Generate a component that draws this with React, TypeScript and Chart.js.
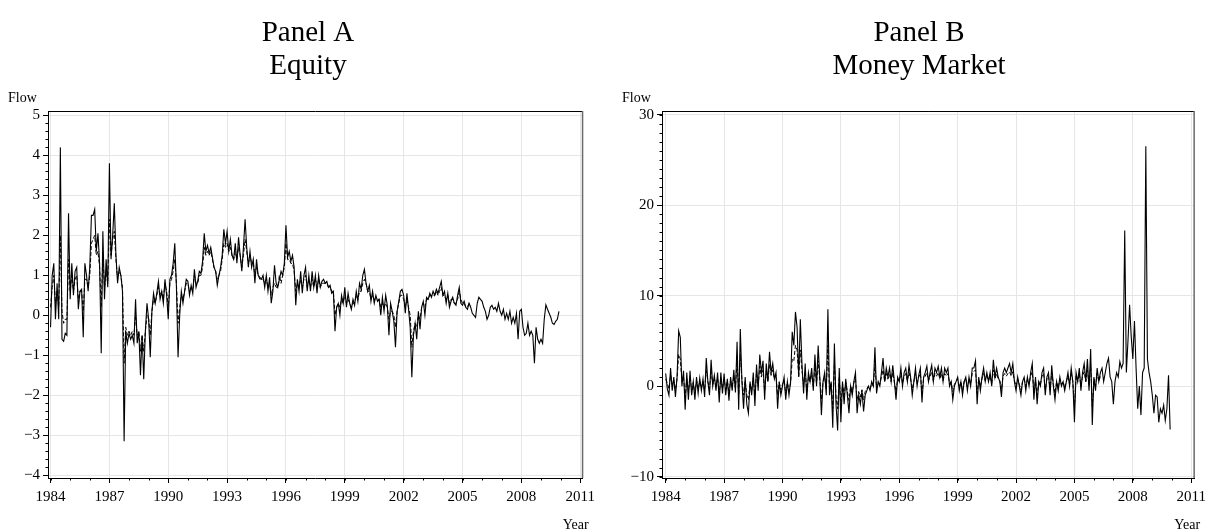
import React, { useEffect, useRef } from 'react';
import { Chart, registerables } from 'chart.js';

Chart.register(...registerables);

const START_YEAR = 1984;
const X_TICKS = [1984, 1987, 1990, 1993, 1996, 1999, 2002, 2005, 2008, 2011];
const EQUITY_Y_TICKS = [-4, -3, -2, -1, 0, 1, 2, 3, 4, 5];
const MM_Y_TICKS = [-10, 0, 10, 20, 30];
const EQUITY_TITLE = ['Panel A', 'Equity'];
const MM_TITLE = ['Panel B', 'Money Market'];
const Y_LABEL = 'Flow';
const X_LABEL = 'Year';

// Panel A, solid line (monthly, Jan 1984 - Dec 2009)
const EQUITY_FLOW = [
  -0.3, 1.0, 1.3, -0.1, 0.8, -0.1, 4.2, -0.6, -0.65, -0.45, -0.5, 2.55,
  0.4, 1.3, 0.5, 1.1, 1.2, 0.15, 0.6, 0.65, -0.55, 1.3, 1.0, 0.6,
  1.2, 2.5, 2.5, 2.65, 1.6, 2.05, 1.3, -0.95, 2.1, 0.4, 1.4, 0.7,
  3.8, 1.4, 2.0, 2.8, 1.5, 0.8, 1.2, 1.0, 0.6, -3.15, -0.4, -0.7,
  -0.45, -0.6, -0.5, -0.7, 0.4, -0.7, -0.4, -1.5, -0.5, -1.6, -0.4, 0.3,
  -0.1, -1.05, 0.1, 0.55, 0.3, 0.55, 0.85, 0.4, 0.6, 0.3, 0.9, 0.5,
  -0.1, 0.9, 1.0, 1.3, 1.8, 0.7, -1.05, 0.0, 0.6, 0.3, 0.6, 0.9,
  0.85, 0.5, 0.75, 0.55, 1.15, 0.7, 0.85, 1.1, 1.05, 1.35, 2.05, 1.6,
  1.75, 1.55, 1.7, 1.45, 1.2, 1.1, 0.75, 1.0, 1.2, 1.5, 2.15, 1.8,
  2.1, 1.6, 1.9, 1.5, 1.4, 1.8, 1.3, 1.95, 1.5, 1.1, 1.7, 2.4,
  1.7, 1.2, 1.6, 1.2, 1.4, 0.8, 1.4, 1.0, 0.95, 0.9, 1.0, 0.7,
  1.0, 0.6, 0.95, 0.3, 0.6, 1.25, 0.8, 0.7, 0.9, 1.1, 1.0, 1.3,
  2.25, 1.45, 1.6, 1.35, 1.5, 1.2, 0.25, 0.9, 0.6, 1.1, 0.55, 1.0,
  1.2, 0.6, 1.0, 0.6, 1.1, 0.7, 1.0, 0.55, 1.0, 0.7, 0.85, 0.9,
  0.8, 0.85, 0.7, 0.75, 0.55, 0.6, -0.4, 0.2, 0.3, 0.0, 0.5, 0.3,
  0.7, 0.2, 0.55, 0.3, 0.15, 0.4, 0.25, 0.6, 0.35, 0.8, 0.65, 1.0,
  1.15, 0.8, 0.6, 0.75, 0.35, 0.6, 0.3, 0.5, 0.35, 0.4, 0.0, 0.45,
  0.1, 0.5, 0.25, -0.5, 0.3, 0.1, -0.15, -0.8, 0.1, 0.35, 0.6, 0.65,
  0.5, 0.05, 0.55, 0.15, -0.3, -1.55, -0.5, -0.2, -0.6, 0.1, -0.35, 0.2,
  0.35, 0.0, 0.45, 0.4, 0.55, 0.45, 0.6, 0.5, 0.65, 0.55, 0.7, 0.85,
  0.5, 0.6, 0.3, 0.55, 0.2, 0.35, 0.45, 0.3, 0.25, 0.5, 0.7, 0.3,
  0.25, 0.35, 0.2, 0.15, 0.3, 0.2, 0.05, 0.0, -0.05, 0.3, 0.45, 0.4,
  0.35, 0.2, 0.1, -0.1, 0.0, 0.2, 0.25, 0.15, 0.2, 0.1, 0.3, 0.1,
  0.0, 0.15, -0.1, 0.05, -0.1, 0.1, -0.2, -0.05, -0.2, 0.05, -0.6, 0.1,
  0.15, -0.3, -0.5, -0.45, -0.2, -0.5, -0.4, -0.5, -1.2, -0.3, -0.6, -0.7,
  -0.6, -0.7, -0.1, 0.26, 0.15, 0.05, -0.05, -0.2, -0.23, -0.15, -0.1, 0.1,
];

// Panel A, dashed line (monthly, Jan 1984 - Jun 2005)
const EQUITY_FLOW_ALT = [
  0.2, 0.7, 1.0, 0.3, 0.6, 0.2, 2.0, 0.1, -0.2, -0.1, -0.1, 1.4,
  0.6, 1.0, 0.6, 0.9, 1.0, 0.4, 0.6, 0.6, 0.1, 0.9, 0.9, 0.7,
  1.0, 1.8, 1.9, 2.0, 1.5, 1.6, 1.2, 0.2, 1.5, 0.7, 1.1, 0.8,
  2.4, 1.5, 1.9, 2.1, 1.4, 0.9, 1.1, 1.0, 0.7, -1.2, -0.3, -0.5,
  -0.4, -0.5, -0.4, -0.5, 0.0, -0.5, -0.4, -0.9, -0.5, -0.9, -0.4, 0.0,
  -0.1, -0.5, 0.1, 0.4, 0.3, 0.5, 0.7, 0.5, 0.6, 0.4, 0.8, 0.6,
  0.2, 0.8, 0.9, 1.1, 1.4, 0.8, -0.2, 0.2, 0.5, 0.4, 0.6, 0.8,
  0.8, 0.6, 0.7, 0.6, 1.0, 0.8, 0.8, 1.0, 1.0, 1.2, 1.7, 1.5,
  1.6, 1.5, 1.6, 1.4, 1.2, 1.1, 0.9, 1.0, 1.1, 1.4, 1.8, 1.7,
  1.8, 1.6, 1.7, 1.5, 1.4, 1.6, 1.4, 1.7, 1.5, 1.2, 1.5, 1.9,
  1.6, 1.3, 1.5, 1.3, 1.3, 1.0, 1.2, 1.0, 0.9, 0.9, 0.9, 0.8,
  0.9, 0.7, 0.8, 0.5, 0.7, 0.8, 0.7, 0.7, 1.0, 0.8, 1.0, 1.2,
  1.8, 1.4, 1.4, 1.3, 1.3, 1.1, 0.6, 0.8, 0.7, 0.9, 0.7, 0.9,
  1.0, 0.7, 0.9, 0.7, 0.9, 0.7, 0.9, 0.7, 0.9, 0.7, 0.8, 0.8,
  0.8, 0.8, 0.7, 0.7, 0.6, 0.6, 0.0, 0.2, 0.3, 0.2, 0.4, 0.3,
  0.5, 0.3, 0.4, 0.3, 0.2, 0.3, 0.3, 0.5, 0.4, 0.6, 0.6, 0.8,
  0.9, 0.8, 0.6, 0.6, 0.4, 0.5, 0.4, 0.4, 0.4, 0.4, 0.2, 0.3,
  0.2, 0.3, 0.2, -0.1, 0.1, 0.1, 0.0, -0.3, 0.1, 0.3, 0.5, 0.5,
  0.4, 0.2, 0.4, 0.2, 0.0, -0.8, -0.4, -0.2, -0.3, 0.0, -0.1, 0.2,
  0.3, 0.2, 0.4, 0.4, 0.5, 0.5, 0.5, 0.5, 0.6, 0.5, 0.6, 0.7,
  0.5, 0.5, 0.4, 0.5, 0.3, 0.4, 0.4, 0.3, 0.3, 0.4, 0.6, 0.4,
  0.3, 0.3, 0.2, 0.2, 0.3, 0.25,
];

// Panel B, solid line (monthly, Jan 1984 - Dec 2009)
const MM_FLOW = [
  1.4, -0.3, -1.0, 2.0, -0.5, 1.0, -1.2, 1.0, 6.1, 5.4, 0.0, 1.7,
  -2.6, 1.5, -1.5, 1.7, -1.0, 0.5, -1.5, 1.0, -0.8, 0.9, -0.5, 0.8,
  -1.2, 3.1, 0.5, -1.0, 2.9, 0.0, 1.2, -0.5, 1.5, -1.8, 1.5, -0.8,
  1.4, -1.0, 0.8, -1.6, 1.0, -0.5, 1.8, -0.7, 4.9, -2.6, 6.3, 0.5,
  -2.5, 1.0, -2.0, -3.0, 0.5, -1.0, 1.5, -2.2, 2.4, -0.5, 3.5, 1.5,
  2.8, -1.5, 2.5, 0.5, 3.8, 1.5, 2.5, 0.8, 1.5, -2.5, 0.5, -1.0,
  0.0, 1.0, -1.5, 0.5, -1.0, 0.5, 6.0, 4.5, 8.2, 6.5, 1.0, 7.4,
  2.5, -0.8, 2.5, -1.5, 1.5, 0.5, 2.0, -0.5, 3.5, 0.0, 4.5, 1.0,
  -3.2, 0.5, 1.5, -1.0, 8.5, -1.0, 0.5, -4.6, 4.7, -2.0, -4.9, 2.0,
  -4.0, 0.5, -2.0, 0.8, -1.0, -3.0, 0.0, -1.0, 0.5, 1.5, -3.0, -1.0,
  -2.0, -0.5, -2.8, -1.0, -0.5, 0.0, -0.5, 0.5, 0.0, 4.3, -0.8, 0.5,
  0.0, 1.5, 3.1, 0.5, 2.0, 1.0, 2.0, 0.5, 2.3, 0.5, -1.5, 1.0,
  0.5, 2.0, 0.0, 1.5, 2.0, 0.5, 2.3, 1.0, -1.0, 0.5, 2.0, 0.0,
  1.2, 2.0, -1.8, 1.0, 1.5, 2.2, 0.5, 1.5, 2.3, 0.5, 2.0, 1.5,
  2.2, 1.0, 2.0, 0.5, 2.0, 1.5, 2.0, 0.0, 0.5, -1.5, 0.0, 0.5,
  1.0, -0.5, 0.5, -1.0, 0.5, 1.0, -0.5, 1.0, 0.0, 2.0, 2.0, 2.8,
  -2.0, 1.0, -0.5, 1.0, 2.0, 0.5, 1.5, 0.5, 1.5, 0.0, 2.9, 1.0,
  2.0, 1.0, 0.5, -1.2, 1.5, 2.0, 1.5, 2.0, 2.5, 1.5, 2.5, 0.5,
  -0.5, 1.0, 0.0, -1.0, 0.5, 1.0, -0.5, 1.0, 0.0, 1.5, 2.5, -1.5,
  1.0, -2.0, 0.5, 0.0, 1.5, 2.0, -1.0, 1.0, 1.5, -1.0, 2.3, 0.0,
  -1.5, 0.5, -0.5, 1.0, 0.0, 0.5, -0.5, 0.5, 1.5, 0.0, 2.0, 0.5,
  -4.0, 1.5, 0.5, 2.0, -0.5, 1.5, 2.5, 0.5, 3.0, -0.5, 4.1, -4.3,
  1.0, -0.5, 2.0, 0.5, 1.5, 2.0, 0.5, 1.5, 2.5, 3.1, 1.0, 0.5,
  -2.0, 0.5, 1.5, 1.0, 2.7, 2.0, 2.5, 17.2, 1.5, 5.0, 9.0, 5.5,
  3.0, 7.2, 2.0, -2.5, 0.0, -3.2, 1.5, 2.0, 26.5, 3.0, 1.5, 0.5,
  -1.0, -3.0, -1.0, -1.2, -4.0, -2.5, -3.0, -2.1, -3.8, -2.5, 1.2, -4.8,
];

// Panel B, dashed line (monthly, Jan 1984 - May 2006)
const MM_FLOW_ALT = [
  0.8, 0.3, -0.3, 1.2, 0.2, 0.6, -0.4, 0.8, 3.5, 3.0, 0.5, 1.0,
  -1.2, 0.8, -0.6, 1.0, -0.4, 0.4, -0.8, 0.6, -0.3, 0.5, -0.2, 0.5,
  -0.5, 1.8, 0.5, -0.3, 1.6, 0.2, 0.8, 0.0, 0.9, -0.8, 0.9, -0.3,
  0.8, -0.4, 0.6, -0.8, 0.6, 0.0, 1.0, -0.2, 2.8, -1.0, 3.5, 0.6,
  -1.0, 0.6, -1.0, -1.5, 0.3, -0.5, 0.9, -1.0, 1.5, 0.0, 2.2, 1.0,
  1.8, -0.5, 1.6, 0.5, 2.4, 1.2, 1.8, 0.8, 1.2, -1.0, 0.4, -0.4,
  0.2, 0.6, -0.8, 0.4, -0.5, 0.3, 3.0, 2.8, 4.5, 4.0, 1.0, 4.0,
  1.8, 0.0, 1.6, -0.6, 1.0, 0.5, 1.2, 0.0, 2.2, 0.3, 2.8, 0.8,
  -1.5, 0.5, 1.0, -0.4, 4.5, -0.4, 0.4, -2.5, 2.5, -1.2, -2.5, 1.0,
  -2.2, 0.3, -1.0, 0.4, -0.6, -1.6, 0.0, -0.6, 0.4, 0.8, -1.6, -0.6,
  -1.2, -0.4, -1.5, -0.6, -0.3, 0.0, -0.3, 0.3, 0.0, 2.4, -0.2, 0.4,
  0.2, 1.0, 1.8, 0.5, 1.4, 0.8, 1.3, 0.5, 1.5, 0.4, -0.6, 0.8,
  0.5, 1.4, 0.3, 1.0, 1.4, 0.6, 1.5, 0.8, -0.3, 0.5, 1.4, 0.3,
  1.0, 1.4, -0.8, 0.8, 1.1, 1.5, 0.6, 1.1, 1.6, 0.6, 1.4, 1.1,
  1.5, 0.8, 1.4, 0.6, 1.4, 1.1, 1.4, 0.3, 0.5, -0.6, 0.2, 0.5,
  0.8, -0.1, 0.5, -0.4, 0.5, 0.8, -0.1, 0.8, 0.2, 1.4, 1.6, 1.8,
  -0.8, 0.8, 0.0, 0.8, 1.4, 0.6, 1.1, 0.6, 1.1, 0.3, 1.8, 0.8,
  1.4, 0.8, 0.6, -0.4, 1.1, 1.4, 1.1, 1.4, 1.6, 1.1, 1.6, 0.6,
  0.0, 0.8, 0.2, -0.4, 0.5, 0.8, 0.0, 0.8, 0.2, 1.1, 1.6, -0.6,
  0.6, -1.0, 0.5, 0.2, 1.1, 1.4, -0.4, 0.8, 1.1, -0.4, 1.5, 0.2,
  -0.8, 0.5, -0.2, 0.8, 0.2, 0.5, -0.2, 0.5, 1.1, 0.2, 1.4, 0.5,
  -2.2, 1.1, 0.5, 1.4, 0.0, 1.1, 1.6, 0.5, 1.8, 0.0, 2.4, -2.2,
  0.8, 0.0, 1.4, 0.5, 1.1,
];

const FONT = '"Liberation Serif", "DejaVu Serif", serif';
const W = 1211;
const H = 532;

type Panel = {
  title: string[];
  solid: number[];
  dashed: number[];
  yTicks: number[];
  yMin: number;
  yMax: number;
  xMin: number;
  xMax: number;
  minorY: number;
  yAxisWidth: number;
  padRight: number;
  titleX: number;
  canvasLeft: number;
  canvasWidth: number;
};

const PANELS: Panel[] = [
  {
    title: EQUITY_TITLE, solid: EQUITY_FLOW, dashed: EQUITY_FLOW_ALT, yTicks: EQUITY_Y_TICKS,
    yMin: -4.07, yMax: 5.11, xMin: 1983.87, xMax: 2011.12, minorY: 0.2,
    yAxisWidth: 48, padRight: 15, titleX: 308, canvasLeft: 0, canvasWidth: 600,
  },
  {
    title: MM_TITLE, solid: MM_FLOW, dashed: MM_FLOW_ALT, yTicks: MM_Y_TICKS,
    yMin: -10.15, yMax: 30.4, xMin: 1983.81, xMax: 2011.15, minorY: 1,
    yAxisWidth: 57, padRight: 9, titleX: 314, canvasLeft: 605, canvasWidth: 606,
  },
];

function toPoints(values: number[]) {
  return values.map((v, i) => ({ x: START_YEAR + i / 12, y: v }));
}

function fmt(v: number) {
  return v < 0 ? '\u2212' + Math.abs(v) : String(v);
}

const decorPlugin = {
  id: 'decor',
  afterDraw(chart: any, _args: any, opts: any) {
    const { ctx, chartArea: a, scales } = chart;
    const xs = scales.x;
    const ys = scales.y;
    ctx.save();
    // top border
    ctx.strokeStyle = '#000';
    ctx.lineWidth = 1;
    ctx.beginPath();
    ctx.moveTo(a.left, Math.round(a.top) + 0.5);
    ctx.lineTo(a.right, Math.round(a.top) + 0.5);
    ctx.stroke();
    // right border
    ctx.strokeStyle = '#6a6a6a';
    ctx.lineWidth = 1.5;
    ctx.beginPath();
    ctx.moveTo(a.right, a.top);
    ctx.lineTo(a.right, a.bottom);
    ctx.stroke();
    // minor ticks
    ctx.strokeStyle = '#000';
    ctx.lineWidth = 1;
    const step = opts.minorY;
    const n0 = Math.ceil(ys.min / step - 1e-9);
    const n1 = Math.floor(ys.max / step + 1e-9);
    for (let k = n0; k <= n1; k++) {
      const py = Math.round(ys.getPixelForValue(k * step)) + 0.5;
      ctx.beginPath();
      ctx.moveTo(a.left - 2.5, py);
      ctx.lineTo(a.left, py);
      ctx.stroke();
    }
    for (let yr = Math.ceil(xs.min); yr <= Math.floor(xs.max); yr++) {
      const px = Math.round(xs.getPixelForValue(yr)) + 0.5;
      ctx.beginPath();
      ctx.moveTo(px, a.bottom);
      ctx.lineTo(px, a.bottom + 2.5);
      ctx.stroke();
    }
    // titles
    ctx.fillStyle = '#000';
    ctx.textBaseline = 'alphabetic';
    ctx.textAlign = 'center';
    ctx.font = `29px ${FONT}`;
    opts.title.forEach((t: string, i: number) => ctx.fillText(t, opts.titleX, 41 + i * 33));
    ctx.font = `14px ${FONT}`;
    ctx.textAlign = 'left';
    ctx.fillText(Y_LABEL, a.left - 40, 102);
    ctx.textAlign = 'right';
    ctx.fillText(X_LABEL, a.right + 6, 529);
    ctx.restore();
  },
};

function buildConfig(p: Panel): any {
  return {
    type: 'line',
    data: {
      datasets: [
        {
          data: toPoints(p.solid),
          borderColor: '#000',
          borderWidth: 1.1,
          pointRadius: 0,
          fill: false,
          tension: 0,
        },
        {
          data: toPoints(p.dashed),
          borderColor: '#000',
          borderWidth: 1,
          borderDash: [4, 2],
          pointRadius: 0,
          fill: false,
          tension: 0,
        },
      ],
    },
    options: {
      animation: false,
      responsive: false,
      devicePixelRatio: 1,
      layout: { padding: { top: 111, right: p.padRight, left: 0, bottom: 0 } },
      plugins: {
        legend: { display: false },
        tooltip: { enabled: false },
        title: { display: false },
        decor: { title: p.title, titleX: p.titleX, minorY: p.minorY },
      },
      scales: {
        x: {
          type: 'linear',
          min: p.xMin,
          max: p.xMax,
          afterBuildTicks: (s: any) => { s.ticks = X_TICKS.map((v) => ({ value: v })); },
          afterFit: (s: any) => { s.height = 54; },
          ticks: {
            callback: (v: any) => String(v),
            font: { family: FONT, size: 15 },
            color: '#000',
            padding: 5,
            maxRotation: 0,
            autoSkip: false,
          },
          grid: { color: '#e6e6e6', lineWidth: 1, tickLength: 5, tickColor: '#000', drawTicks: true },
          border: { color: '#000', width: 1 },
        },
        y: {
          type: 'linear',
          min: p.yMin,
          max: p.yMax,
          afterBuildTicks: (s: any) => { s.ticks = p.yTicks.map((v) => ({ value: v })); },
          afterFit: (s: any) => { s.width = p.yAxisWidth; },
          ticks: {
            callback: (v: any) => fmt(Number(v)),
            font: { family: FONT, size: 15 },
            color: '#000',
            padding: 3,
            autoSkip: false,
          },
          grid: { color: '#e6e6e6', lineWidth: 1, tickLength: 5, tickColor: '#000', drawTicks: true },
          border: { color: '#000', width: 1 },
        },
      },
    },
    plugins: [decorPlugin],
  };
}

function PanelChart({ panel }: { panel: Panel }) {
  const ref = useRef<HTMLCanvasElement | null>(null);
  useEffect(() => {
    if (!ref.current) return;
    const chart = new Chart(ref.current, buildConfig(panel));
    return () => chart.destroy();
  }, [panel]);
  return (
    <canvas
      ref={ref}
      width={panel.canvasWidth}
      height={H}
      style={{ position: 'absolute', left: panel.canvasLeft, top: 0, width: panel.canvasWidth, height: H }}
    />
  );
}

export default function App() {
  return (
    <div style={{ position: 'fixed', left: 0, top: 0, width: W, height: H, background: '#fff', overflow: 'hidden' }}>
      {PANELS.map((p, i) => (
        <PanelChart key={i} panel={p} />
      ))}
    </div>
  );
}
